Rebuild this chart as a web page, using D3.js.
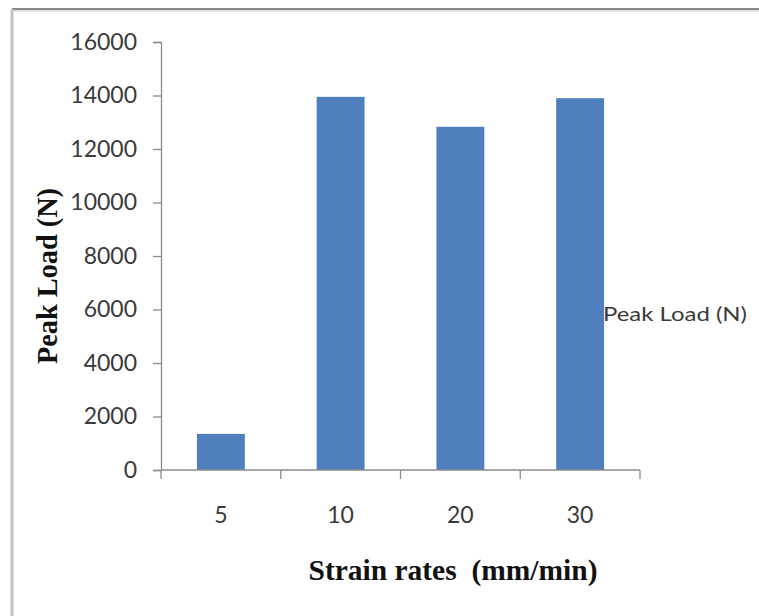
<!DOCTYPE html>
<html>
<head>
<meta charset="utf-8">
<script src="https://cdn.jsdelivr.net/npm/d3@7"></script>
<style>
  body { margin: 0; background: #fff; }
  svg { display: block; }
  text { white-space: pre; }
</style>
</head>
<body>
<div id="wrapper"></div>
<script>
const categories = ["5", "10", "20", "30"]
const peakLoad = [1350, 13950, 12830, 13900]
const yTicks = [0, 2000, 4000, 6000, 8000, 10000, 12000, 14000, 16000]
const seriesName = "Peak Load (N)"

const width = 759
const height = 616
const dimensions = {
    width: width,
    height: height,
    margin: { top: 42, left: 161 },
    boundedWidth: 479,
    boundedHeight: 428,
}

const svg = d3.select("#wrapper")
    .append("svg")
    .attr("width", dimensions.width)
    .attr("height", dimensions.height)

// outer frame (top + left edges visible)
svg.append("line")
    .attr("x1", 12).attr("x2", width)
    .attr("y1", 10).attr("y2", 10)
    .attr("stroke", "#d8d8d8").attr("stroke-width", 3)
svg.append("line")
    .attr("x1", 12).attr("x2", width)
    .attr("y1", 9).attr("y2", 9)
    .attr("stroke", "#8a8a8a").attr("stroke-width", 2)
svg.append("line")
    .attr("x1", 12).attr("x2", 12)
    .attr("y1", 9).attr("y2", height)
    .attr("stroke", "#c4c4c4").attr("stroke-width", 3)

const bounds = svg.append("g")
    .attr("transform", `translate(${dimensions.margin.left}, ${dimensions.margin.top})`)

const xScaler = d3.scaleBand()
    .domain(categories)
    .range([0, dimensions.boundedWidth])
    .paddingInner(0.6)
    .paddingOuter(0.3)

const yScaler = d3.scaleLinear()
    .domain([0, 16000])
    .range([dimensions.boundedHeight, 0])

const axisColor = "#8c8c8c"
const textColor = "#3a3a3a"
const tickFont = "Lato, 'Open Sans', sans-serif"
const titleFont = "'Liberation Serif', 'Times New Roman', serif"

// y axis
const yAxis = bounds.append("g")
    .call(d3.axisLeft(yScaler).tickValues(yTicks).tickSize(8).tickPadding(16).tickFormat(d3.format("d")))
yAxis.select(".domain").attr("stroke", axisColor).attr("stroke-width", 1.3)
yAxis.selectAll(".tick line").attr("stroke", axisColor).attr("stroke-width", 1.3)
yAxis.selectAll(".tick text")
    .attr("font-family", tickFont)
    .attr("font-size", 23)
    .attr("fill", textColor)

// bars
bounds.append("g")
    .selectAll("rect")
    .data(peakLoad)
    .join("rect")
    .attr("x", (d, i) => xScaler(categories[i]))
    .attr("y", d => yScaler(d))
    .attr("width", xScaler.bandwidth())
    .attr("height", d => dimensions.boundedHeight - yScaler(d))
    .attr("fill", "#4f7fbc")

// x axis
const xAxis = bounds.append("g")
    .attr("transform", `translate(0, ${dimensions.boundedHeight})`)
xAxis.append("line")
    .attr("x1", 0).attr("x2", dimensions.boundedWidth)
    .attr("stroke", axisColor).attr("stroke-width", 1.3)
const step = xScaler.step()
const boundaries = d3.range(categories.length + 1).map(i => i * step)
xAxis.selectAll(".xtick")
    .data(boundaries)
    .join("line")
    .attr("class", "xtick")
    .attr("x1", d => d).attr("x2", d => d)
    .attr("y1", 0).attr("y2", 9)
    .attr("stroke", axisColor).attr("stroke-width", 1.3)
xAxis.selectAll(".xlabel")
    .data(categories)
    .join("text")
    .attr("class", "xlabel")
    .attr("x", d => xScaler(d) + xScaler.bandwidth() / 2)
    .attr("y", 47)
    .attr("text-anchor", "middle")
    .attr("dominant-baseline", "middle")
    .attr("font-family", tickFont)
    .attr("font-size", 23)
    .attr("fill", textColor)
    .text(d => d)

// axis titles
svg.append("text")
    .attr("x", 453)
    .attr("y", 580)
    .attr("text-anchor", "middle")
    .attr("font-family", titleFont)
    .attr("font-weight", "bold")
    .attr("font-size", 30)
    .attr("textLength", 289)
    .attr("lengthAdjust", "spacingAndGlyphs")
    .attr("fill", "#111")
    .text("Strain rates  (mm/min)")

svg.append("text")
    .attr("transform", "translate(57, 276) rotate(-90)")
    .attr("text-anchor", "middle")
    .attr("font-family", titleFont)
    .attr("font-weight", "bold")
    .attr("font-size", 30)
    .attr("textLength", 176)
    .attr("lengthAdjust", "spacingAndGlyphs")
    .attr("fill", "#111")
    .text("Peak Load (N)")

// legend
svg.append("text")
    .attr("x", 603)
    .attr("y", 316)
    .attr("dominant-baseline", "middle")
    .attr("font-family", tickFont)
    .attr("font-size", 20)
    .attr("textLength", 144)
    .attr("lengthAdjust", "spacingAndGlyphs")
    .attr("fill", textColor)
    .text(seriesName)
</script>
</body>
</html>
